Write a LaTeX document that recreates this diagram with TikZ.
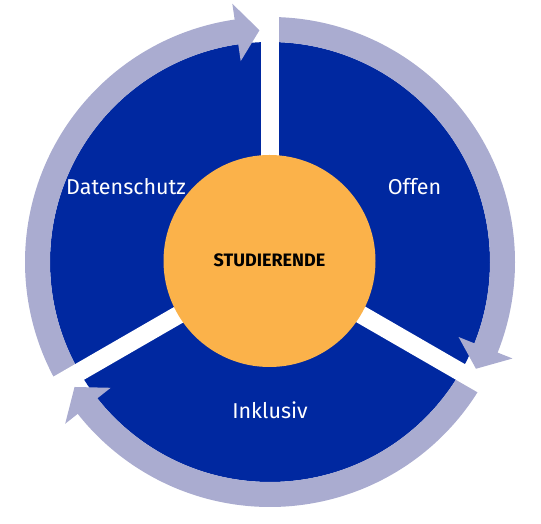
\documentclass[tikz,border=0pt]{standalone}
\usepackage{fontspec}
\setmainfont{Fira Sans}
\usetikzlibrary{calc}
\definecolor{dblue}{RGB}{0,40,160}
\definecolor{ringc}{RGB}{170,172,208}
\definecolor{orng}{RGB}{251,178,74}
\tikzset{
  ringarc/.style={draw=ringc, line width=25pt},
  headfill/.style={fill=ringc},
  gapline/.style={draw=white, line width=18pt},
  seglabel/.style={text=white, font=\fontsize{21.5}{24}\selectfont, inner sep=0pt},
  centerlabel/.style={text=black, font=\bfseries\fontsize{18}{21}\selectfont, inner sep=0pt}
}
\newcommand{\ringseg}[3]{% start angle, back angle, tip angle
  \draw[ringarc] ($(C)+(#1:232.5)$) arc[start angle=#1, end angle=#2, radius=232.5];
  \fill[headfill] ($(C)+(#2+0.3:261)$) -- ($(C)+(#3:232)$) -- ($(C)+(#2+0.3:203)$) -- cycle;
}
\begin{document}
\begin{tikzpicture}[x=1pt,y=1pt]
\useasboundingbox (0,0) rectangle (541,524);
\coordinate (C) at (270,262);
\fill[dblue] (C) circle (220);
\ringseg{90}{-22}{-27.4}
\ringseg{-30}{-142}{-147.4}
\ringseg{210}{98}{92.6}
\draw[gapline] (C) -- ($(C)+(90:275)$);
\draw[gapline] (C) -- ($(C)+(-30:275)$);
\draw[gapline] (C) -- ($(C)+(210:275)$);
\fill[orng] (269.5,263) circle (106);
\node[centerlabel] (stud) at (269.5,264) {STUDIERENDE};
\node[seglabel] (dat) at (126,337) {Datenschutz};
\node[seglabel] (off) at (414.5,337) {Offen};
\node[seglabel] (ink) at (270,114) {Inklusiv};
\end{tikzpicture}
\end{document}
